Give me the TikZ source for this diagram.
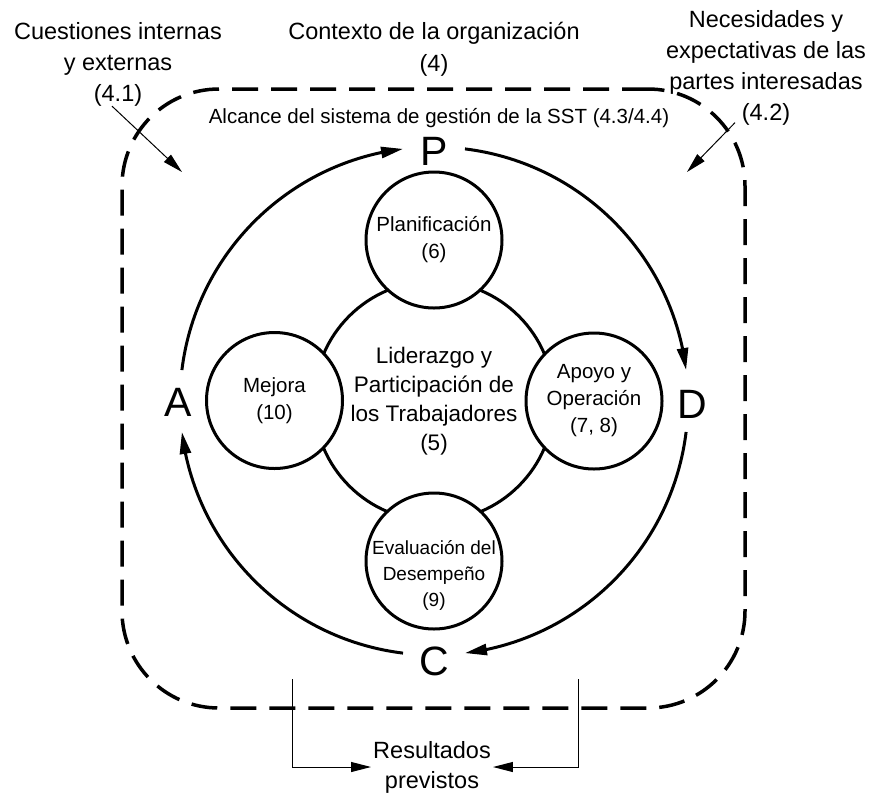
\documentclass[tikz,border=0pt]{standalone}
\usepackage{fontspec}
\setmainfont{Liberation Sans}
\usetikzlibrary{arrows.meta,bending,calc}
\begin{document}
\begin{tikzpicture}[x=1pt,y=-1pt,
  txt/.style={align=center,inner sep=0pt},
  circ/.style={draw,circle,line width=3pt,minimum size=136pt,inner sep=0pt,fill=white,align=center,font=\fontsize{20.5}{27}\selectfont},
  cyc/.style={line width=3pt,-{Triangle[length=22pt,width=11pt]}},
  thinarr/.style={line width=1pt,-{Triangle[length=20pt,width=10pt]}},
  pdca/.style={font=\fontsize{41}{41}\selectfont,inner sep=0pt}
]
\useasboundingbox (0,0) rectangle (873,796);
% scope boundary
\node[draw,line width=3.5pt,dash pattern=on 26pt off 13pt,rounded corners=97pt,minimum width=623pt,minimum height=619pt,inner sep=0pt] (scope) at (433.5,398.5) {};
% centre
\coordinate (o) at (434,401);
\node[draw,circle,line width=3pt,minimum size=240pt,inner sep=0pt,align=center,font=\fontsize{22.5}{29}\selectfont] (lead) at (o) {Liderazgo y\\Participación de\\los Trabajadores\\(5)};
\node[circ] (plan) at (434,240) {Planificación\\(6)};
\node[circ] (mej) at (274.5,400.5) {Mejora\\(10)};
\node[circ] (apo) at (594,401) {Apoyo y\\Operación\\(7, 8)};
\node[circ,label={[font=\fontsize{19}{26}\selectfont,align=center,yshift=-14pt]center:{Evaluación del\\Desempeño\\(9)}}] (eva) at (434,561) {};
% PDCA letters
\node[pdca] (P) at (434,151) {P};
\node[pdca] (D) at (692,404) {D};
\node[pdca] (C) at (434,661) {C};
\node[pdca] (A) at (178,402) {A};
% cycle arcs
\draw[cyc] ([shift={(-83:254)}]o) arc[start angle=-83,end angle=-7,radius=254];
\draw[cyc] ([shift={(7:254)}]o) arc[start angle=7,end angle=83,radius=254];
\draw[cyc] ([shift={(97:254)}]o) arc[start angle=97,end angle=173,radius=254];
\draw[cyc] ([shift={(187:254)}]o) arc[start angle=187,end angle=263,radius=254];
% top texts
\node[txt,font=\fontsize{23.5}{31}\selectfont] (cuest) at (118,64) {Cuestiones internas\\y externas\\(4.1)};
\node[txt,font=\fontsize{23.5}{32}\selectfont] (ctx) at (434,49) {Contexto de la organización\\(4)};
\node[txt,font=\fontsize{23.5}{31}\selectfont] (nec) at (766,68) {Necesidades y\\expectativas de las\\partes interesadas\\(4.2)};
\node[txt,font=\fontsize{20.5}{24}\selectfont] (alc) at (439,118) {Alcance del sistema de gestión de la SST (4.3/4.4)};
% input arrows
\coordinate (in1) at (182,172);
\coordinate (in2) at (687,172);
\draw[thinarr] ([xshift=-6pt]cuest.south) -- (in1);
\draw[thinarr] ([xshift=-31pt,yshift=3pt]nec.south) -- (in2);
% results
\node[txt,inner sep=2pt,font=\fontsize{23.5}{30}\selectfont] (res) at (432,767) {Resultados\\previstos};
\coordinate (bl) at (292,679);
\coordinate (br) at (578,679);
\draw[thinarr] (bl) |- (res.west);
\draw[thinarr] (br) |- (res.east);
\end{tikzpicture}
\end{document}
